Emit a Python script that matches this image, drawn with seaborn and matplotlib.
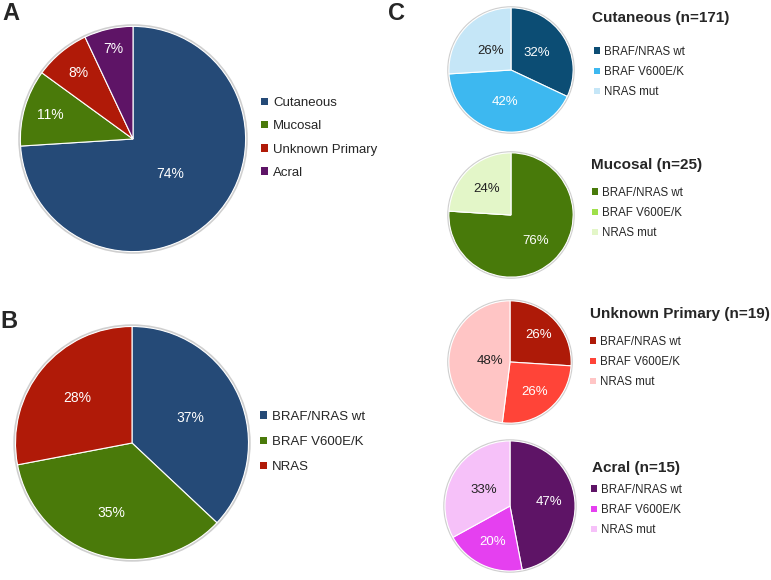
import numpy as np
import matplotlib
matplotlib.use('Agg')
import matplotlib.pyplot as plt
from matplotlib.patches import Patch, Circle
import seaborn as sns

# data (percent)
a_labels = ['Cutaneous', 'Mucosal', 'Unknown Primary', 'Acral']
a_values = [74, 11, 8, 7]

b_labels = ['BRAF/NRAS wt', 'BRAF V600E/K', 'NRAS']
b_values = [37, 35, 28]

c_labels = ['BRAF/NRAS wt', 'BRAF V600E/K', 'NRAS mut']
c_titles = ['Cutaneous (n=171)', 'Mucosal (n=25)', 'Unknown Primary (n=19)', 'Acral (n=15)']
cut_values = [32, 42, 26]
muc_values = [76, 0, 24]
unk_values = [26, 26, 48]
acr_values = [47, 20, 33]

sns.set_theme(style='white')
plt.rcParams['font.family'] = ['Liberation Sans', 'DejaVu Sans']

a_colors = sns.color_palette(['#254a77', '#4a7a0a', '#b01a08', '#5e1466'])
b_colors = sns.color_palette(['#254a77', '#4a7a0a', '#b01a08'])
c_colors = [
    sns.color_palette(['#0c4d74', '#3db8f0', '#c5e6f7']),
    sns.color_palette(['#487a0a', '#9fe04a', '#e3f6c8']),
    sns.color_palette(['#ae1a08', '#ff4438', '#ffc5c5']),
    sns.color_palette(['#5e1466', '#e540f0', '#f6c1f9']),
]

W, H = 771, 580
fig = plt.figure(figsize=(W / 100, H / 100), dpi=100)


def pie_axes(cx, cy, r):
    ax = fig.add_axes([(cx - r) / W, (H - cy - r) / H, 2 * r / W, 2 * r / H])
    return ax


def draw_pie(ax, values, colors, dists, txt_colors, fs):
    ax.add_patch(Circle((0, 0), 1.01, facecolor='none', edgecolor='#cfcfcf', lw=1.5, zorder=0))
    wedges, _ = ax.pie(values, colors=colors, startangle=90, counterclock=False, radius=1,
                       wedgeprops=dict(edgecolor='white', linewidth=0.8))
    for w, v, d, tc in zip(wedges, values, dists, txt_colors):
        if v == 0:
            continue
        th = np.deg2rad((w.theta1 + w.theta2) / 2)
        ax.text(d * np.cos(th), d * np.sin(th), f'{v}%', ha='center', va='center',
                fontsize=fs, color=tc)
    ax.set_xlim(-1.03, 1.03)
    ax.set_ylim(-1.03, 1.03)
    ax.set_aspect('equal')
    ax.axis('off')


def add_legend(labels, colors, x, y, spacing, fs):
    handles = [Patch(facecolor=c, edgecolor='none') for c in colors]
    fig.legend(handles, labels, loc='center left', bbox_to_anchor=(x / W, 1 - y / H),
               frameon=False, fontsize=fs, handlelength=0.5, handleheight=0.5,
               handletextpad=0.4, labelspacing=spacing, borderpad=0, borderaxespad=0)


# Panel A
ax_a = pie_axes(133, 139, 116)
draw_pie(ax_a, a_values, a_colors, [0.45, 0.76, 0.76, 0.82], ['white'] * 4, 10)
add_legend(a_labels, a_colors, 261, 138, 0.85, 9.5)

# Panel B
ax_b = pie_axes(132, 443, 120)
draw_pie(ax_b, b_values, b_colors, [0.55, 0.63, 0.61], ['white'] * 3, 10)
add_legend(b_labels, b_colors, 260, 442, 1.0, 9.5)

# Panel C
c_values = [cut_values, muc_values, unk_values, acr_values]
c_geom = [(511, 70, 64), (511, 215, 64), (510, 362, 63), (510, 506, 67)]
c_dists = [[0.5, 0.53, 0.44], [0.57, 0.5, 0.57], [0.65, 0.63, 0.32], [0.6, 0.61, 0.47]]
c_title_pos = [(592, 18), (591, 165), (590, 314), (592, 468)]
c_leg_pos = [(594, 72), (592, 213), (590, 362), (591, 510)]
txt = ['white', 'white', '#222222']
for vals, cols, (cx, cy, r), d, (tx, ty), (lx, ly), t in zip(
        c_values, c_colors, c_geom, c_dists, c_title_pos, c_leg_pos, c_titles):
    ax = pie_axes(cx, cy, r)
    draw_pie(ax, vals, cols, d, txt, 9.5)
    fig.text(tx / W, 1 - ty / H, t, fontsize=11, fontweight='bold', va='center', ha='left')
    add_legend(c_labels, cols, lx, ly, 0.72, 8.3)

# panel letters
for letter, x, y in [('A', 2, 13), ('B', 0, 321), ('C', 388, 13)]:
    fig.text(x / W, 1 - y / H, letter, fontsize=17, fontweight='bold', va='center', ha='left')

fig.savefig('out.png', dpi=100)
